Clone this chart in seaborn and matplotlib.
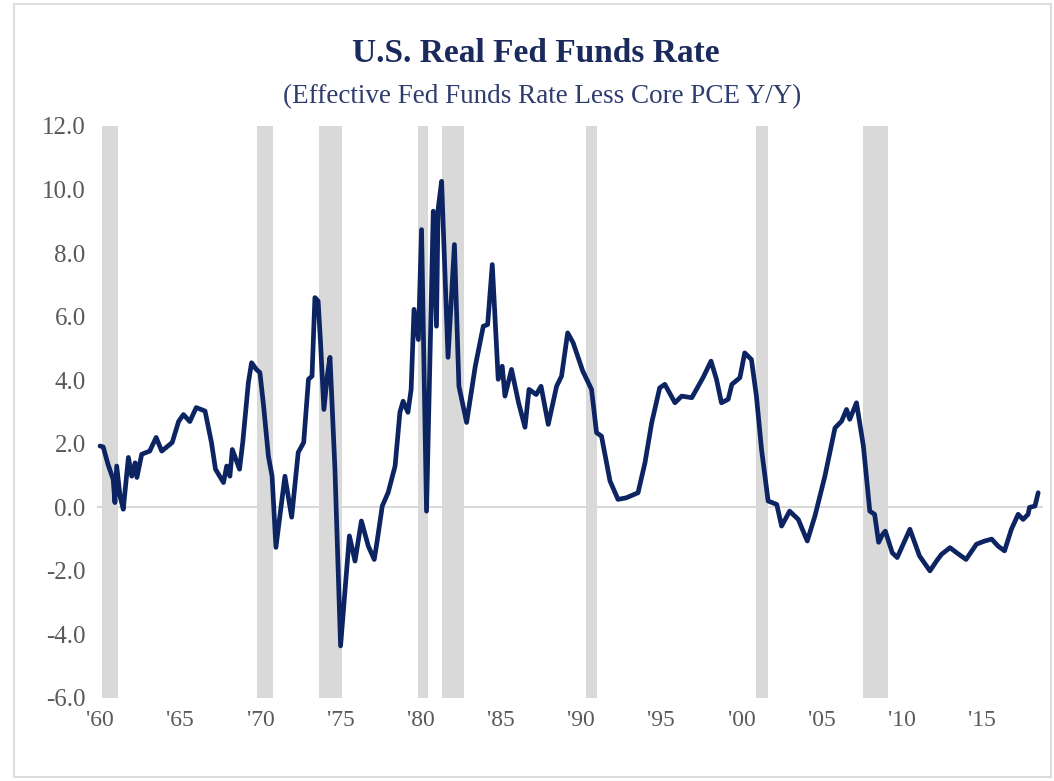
import matplotlib
matplotlib.use("Agg")
import matplotlib.pyplot as plt
import seaborn as sns
import pandas as pd
from matplotlib.patches import Rectangle

# ---- data ----
years = [
    1960.00, 1960.20, 1960.50, 1960.82, 1960.93, 1961.04, 1961.25, 1961.45, 1961.77, 1961.98,
    1962.19, 1962.30, 1962.60, 1963.10, 1963.50, 1963.85, 1964.50, 1964.90, 1965.20, 1965.60,
    1966.00, 1966.55, 1966.95, 1967.20, 1967.70, 1967.90, 1968.10, 1968.25, 1968.70, 1968.90,
    1969.25, 1969.45, 1969.75, 1969.97, 1970.20, 1970.50, 1970.73, 1970.97, 1971.53, 1971.95,
    1972.36, 1972.70, 1973.00, 1973.22, 1973.40, 1973.60, 1973.75, 1973.96, 1974.17, 1974.34,
    1974.65, 1975.00, 1975.55, 1975.90, 1976.30, 1976.73, 1977.10, 1977.27, 1977.60, 1977.97,
    1978.40, 1978.70, 1978.90, 1979.20, 1979.40, 1979.58, 1979.85, 1980.05, 1980.36, 1980.78,
    1980.98, 1981.08, 1981.30, 1981.70, 1982.10, 1982.38, 1982.86, 1983.40, 1983.90, 1984.17,
    1984.46, 1984.83, 1985.08, 1985.25, 1985.66, 1986.10, 1986.50, 1986.75, 1987.20, 1987.50,
    1987.95, 1988.47, 1988.78, 1989.16, 1989.50, 1990.10, 1990.65, 1990.96, 1991.27, 1991.80,
    1992.30, 1992.82, 1993.55, 1993.98, 1994.40, 1994.90, 1995.22, 1995.85, 1996.27, 1996.90,
    1997.60, 1998.10, 1998.44, 1998.75, 1999.17, 1999.40, 1999.90, 2000.20, 2000.62, 2000.93,
    2001.25, 2001.66, 2002.20, 2002.50, 2003.00, 2003.54, 2004.10, 2004.58, 2005.20, 2005.83,
    2006.24, 2006.55, 2006.75, 2007.17, 2007.60, 2008.00, 2008.30, 2008.55, 2008.80, 2008.97,
    2009.40, 2009.71, 2010.50, 2011.10, 2011.75, 2012.16, 2012.47, 2013.00, 2013.42, 2014.00,
    2014.65, 2015.17, 2015.60, 2016.00, 2016.40, 2016.83, 2017.25, 2017.56, 2017.87, 2017.96,
    2018.30, 2018.50,
]
real_rate = [
    1.93, 1.90, 1.35, 0.88, 0.15, 1.30, 0.35, -0.06, 1.57, 0.98,
    1.40, 0.94, 1.67, 1.77, 2.20, 1.77, 2.04, 2.70, 2.92, 2.70,
    3.14, 3.03, 2.04, 1.20, 0.78, 1.30, 0.98, 1.82, 1.20, 2.04,
    3.92, 4.55, 4.34, 4.24, 3.19, 1.61, 0.98, -1.26, 0.98, -0.31,
    1.73, 2.04, 4.03, 4.13, 6.60, 6.49, 5.19, 3.08, 4.13, 4.72,
    1.20, -4.36, -0.90, -1.69, -0.43, -1.22, -1.64, -1.10, 0.04, 0.47,
    1.30, 2.99, 3.34, 2.99, 3.71, 6.23, 5.28, 8.74, -0.12, 9.32,
    5.70, 9.37, 10.26, 4.72, 8.27, 3.81, 2.67, 4.44, 5.70, 5.75,
    7.64, 4.03, 4.44, 3.50, 4.34, 3.29, 2.52, 3.71, 3.55, 3.81,
    2.61, 3.81, 4.13, 5.49, 5.18, 4.29, 3.71, 2.35, 2.24, 0.83,
    0.25, 0.30, 0.46, 1.40, 2.66, 3.76, 3.87, 3.29, 3.50, 3.45,
    4.08, 4.60, 4.03, 3.29, 3.40, 3.87, 4.08, 4.86, 4.65, 3.50,
    1.82, 0.20, 0.09, -0.59, -0.12, -0.38, -1.06, -0.27, 0.98, 2.50,
    2.71, 3.08, 2.77, 3.29, 1.93, -0.12, -0.22, -1.10, -0.85, -0.75,
    -1.43, -1.58, -0.69, -1.53, -2.00, -1.69, -1.48, -1.27, -1.43, -1.64,
    -1.16, -1.06, -1.00, -1.22, -1.37, -0.69, -0.22, -0.38, -0.22, 0.00,
    0.04, 0.46,
]
recession_start = [1960.15, 1969.80, 1973.67, 1979.80, 1981.30, 1990.30, 2000.88, 2007.58]
recession_end   = [1961.10, 1970.77, 1975.06, 1980.43, 1982.71, 1991.00, 2001.63, 2009.15]
tick_years  = [1960, 1965, 1970, 1975, 1980, 1985, 1990, 1995, 2000, 2005, 2010, 2015]
tick_labels = ["'60", "'65", "'70", "'75", "'80", "'85", "'90", "'95", "'00", "'05", "'10", "'15"]
y_ticks = [12.0, 10.0, 8.0, 6.0, 4.0, 2.0, 0.0, -2.0, -4.0, -6.0]

title = "U.S. Real Fed Funds Rate"
subtitle = "(Effective Fed Funds Rate Less Core PCE Y/Y)"

df = pd.DataFrame({"year": years, "rate": real_rate})

sns.set_theme(style="white")
plt.rcParams["font.family"] = ["Liberation Serif", "DejaVu Serif"]

W, H = 1054, 781
fig = plt.figure(figsize=(W / 100, H / 100), dpi=100)
fig.patch.set_facecolor("white")

# light frame around the whole picture
fig.patches.append(Rectangle((14 / W, 4 / H), (1051 - 14) / W, (777 - 4) / H,
                             transform=fig.transFigure, fill=False,
                             edgecolor="#DDDDDD", linewidth=1.5))

ax = fig.add_axes([96.8 / W, 83 / H, (1043 - 96.8) / W, (698 - 126) / H])
ax.set_facecolor("white")

for s, e in zip(recession_start, recession_end):
    ax.axvspan(s, e, color="#D9D9D9", linewidth=0, zorder=0)

ax.axhline(0, color="#D9D9D9", linewidth=1.5, zorder=1)

sns.lineplot(data=df, x="year", y="rate", ax=ax, color="#0C2461",
             linewidth=3.4, estimator=None, sort=True, zorder=3)

ax.set_xlim(1959.8, 2018.8)
ax.set_ylim(-6, 12)
ax.set_yticks(y_ticks)
ax.set_yticklabels([f"{v:.1f}" for v in y_ticks])
ax.set_xticks(tick_years)
ax.set_xticklabels(tick_labels)
ax.tick_params(axis="both", length=0, labelcolor="#595959")
ax.tick_params(axis="y", pad=8, labelsize=18)
ax.tick_params(axis="x", pad=9, labelsize=17)
ax.set_xlabel("")
ax.set_ylabel("")
for sp in ax.spines.values():
    sp.set_visible(False)
ax.grid(False)

fig.text(0.508, 1 - 53 / H, title, ha="center", va="center",
         fontsize=24, fontweight="bold", color="#1B2A5C")
fig.text(0.514, 1 - 97 / H, subtitle, ha="center", va="center",
         fontsize=19.5, color="#2E3B6E")

fig.savefig("out.png", dpi=100, facecolor="white")
